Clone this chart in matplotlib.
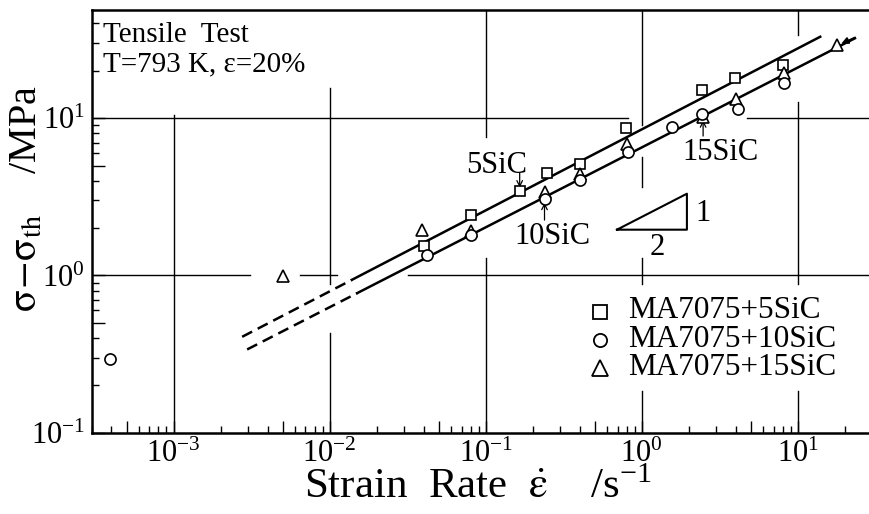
import matplotlib
matplotlib.use("Agg")
import matplotlib.pyplot as plt
from matplotlib.ticker import LogLocator, FuncFormatter, NullFormatter
import numpy as np

plt.rcParams['font.family'] = ['Liberation Serif', 'DejaVu Serif']
plt.rcParams['mathtext.fontset'] = 'stix'

# ---------------- DATA ----------------
rate_5 = [0.040, 0.080, 0.165, 0.247, 0.40, 0.79, 2.43, 3.93, 8.07]
stress_5 = [1.55, 2.41, 3.44, 4.51, 5.14, 8.6, 15.2, 18.1, 21.8]

rate_10 = [0.00039, 0.042, 0.081, 0.238, 0.40, 0.81, 1.56, 2.43, 4.12, 8.17]
stress_10 = [0.294, 1.355, 1.80, 3.08, 4.03, 6.1, 8.8, 10.7, 11.5, 16.8]

rate_15 = [0.005, 0.039, 0.081, 0.238, 0.40, 0.80, 2.47, 4.0, 8.17, 17.7]
stress_15 = [0.99, 1.94, 1.93, 3.4, 4.44, 6.9, 10.2, 13.3, 19.3, 29.2]

legend_labels = ["MA7075+5SiC", "MA7075+10SiC", "MA7075+15SiC"]

# fitted lines  sigma = A * rate^m  (upper: 5SiC, lower: 10/15SiC)
fit_A = [8.49, 6.52]
fit_m = [0.515, 0.508]
dash_range = [(0.00275, 0.0139), (0.00296, 0.0150)]
solid_range = [(0.0139, 13.9), (0.0150, 23.2)]

# slope triangle corners (rate, stress)
tri_x = [0.693, 1.945, 1.945, 0.693]
tri_y = [1.955, 3.31, 1.955, 1.955]

XMIN, XMAX = 3.0e-4, 28.6
YMIN, YMAX = 0.1, 48.7

# grid lines are broken where the original drawing erased them
vgrid_gaps = {
    1e-3: [(10.45, YMAX)],
    1e-2: [(15.5, YMAX), (0.433, 0.889)],
    1e-1: [(1.30, 7.57)],
    1e0: [(5.64, 9.02), (1.30, 3.64), (0.185, 0.889)],
    1e1: [(12.6, 33.8), (0.185, 0.889)],
}
hgrid_gaps = {
    1e0: [(0.00311, 0.0065), (0.0112, 0.032)],
    1e1: [(0.818, 4.73)],
}


def segments(lo, hi, gaps):
    out, start = [], lo
    for g0, g1 in sorted(gaps):
        out.append((start, g0))
        start = g1
    out.append((start, hi))
    return [(a, b) for a, b in out if b > a]


# ---------------- FIGURE ----------------
fig = plt.figure(figsize=(8.7, 5.14), dpi=100)
ax = fig.add_axes([0.1057, 0.158, 0.8933, 0.8225])
ax.set_xscale('log')
ax.set_yscale('log')
ax.set_xlim(XMIN, XMAX)
ax.set_ylim(YMIN, YMAX)

for xv, gaps in vgrid_gaps.items():
    for a, b in segments(YMIN, YMAX, gaps):
        ax.plot([xv, xv], [a, b], color='black', lw=1.0, zorder=1)
for yv, gaps in hgrid_gaps.items():
    for a, b in segments(XMIN, XMAX, gaps):
        ax.plot([a, b], [yv, yv], color='black', lw=1.0, zorder=1)

# fit lines
for A, m, (d0, d1), (s0, s1) in zip(fit_A, fit_m, dash_range, solid_range):
    xd = np.array([d0, d1])
    xs = np.array([s0, s1])
    ax.plot(xd, A * xd ** m, color='black', lw=1.8, ls=(0, (4.5, 2.5)), zorder=3)
    ax.plot(xs, A * xs ** m, color='black', lw=1.8, zorder=3)

mk = dict(ls='none', mfc='white', mec='black', mew=1.2, zorder=4)
ax.plot(rate_5, stress_5, marker='s', ms=7.5, **mk)
ax.plot(rate_15, stress_15, marker='^', ms=9, **mk)
ax.plot(rate_10, stress_10, marker='o', ms=8, **mk)

# slope triangle
ax.plot(tri_x, tri_y, color='black', lw=1.5, zorder=3)
ax.text(2.47, 2.48, "1", fontsize=22, ha='center', va='center')
ax.text(1.256, 1.51, "2", fontsize=22, ha='center', va='center')

# labels with arrows
arr = dict(arrowstyle='->', color='black', lw=0.9, shrinkA=0, shrinkB=0)
ax.text(0.118, 4.46, "5SiC", fontsize=22, ha='center', va='baseline')
ax.annotate("", xy=(0.165, 3.62), xytext=(0.165, 4.5), arrowprops=arr)
ax.text(0.267, 1.58, "10SiC", fontsize=22, ha='center', va='baseline')
ax.annotate("", xy=(0.238, 2.9), xytext=(0.238, 2.25), arrowprops=arr)
ax.text(3.18, 5.4, "15SiC", fontsize=22, ha='center', va='baseline')
ax.annotate("", xy=(2.47, 9.7), xytext=(2.47, 7.7), arrowprops=arr)
ax.annotate("", xy=(19.0, 29.8), xytext=(23.2, 32.6),
            arrowprops=dict(arrowstyle='-|>', color='black', lw=1.2,
                            mutation_scale=10, shrinkA=0, shrinkB=0))

# header
ax.text(0.014, 0.925, "Tensile  Test", transform=ax.transAxes,
        fontsize=21, va='baseline', zorder=5)
ax.text(0.014, 0.854, "T=793 K, \u03b5=20%", transform=ax.transAxes,
        fontsize=21, va='baseline', zorder=5)

# legend drawn by hand (tight rows like the original)
leg_mk = ['s', 'o', '^']
leg_ms = [9.5, 9.5, 11]
leg_mark_y = [0.286, 0.219, 0.153]
leg_text_y = [0.271, 0.2035, 0.1365]
for lab, m, s, my, ty in zip(legend_labels, leg_mk, leg_ms, leg_mark_y, leg_text_y):
    ax.plot([0.654], [my], transform=ax.transAxes, marker=m, ms=s,
            ls='none', mfc='white', mec='black', mew=1.3, zorder=5,
            clip_on=False)
    ax.text(0.690, ty, lab, transform=ax.transAxes, fontsize=22.5,
            va='baseline', zorder=5)


# ticks
def decade_label(v, pos):
    e = np.log10(v)
    if abs(e - round(e)) < 1e-6:
        return r"$\mathregular{10^{%d}}$" % int(round(e))
    return ""


for axis in (ax.xaxis, ax.yaxis):
    axis.set_major_locator(LogLocator(base=10, subs=(1.0, 5.0), numticks=20))
    axis.set_minor_locator(LogLocator(base=10, subs=(2, 3, 4, 6, 7, 8, 9), numticks=20))
    axis.set_major_formatter(FuncFormatter(decade_label))
    axis.set_minor_formatter(NullFormatter())

ax.tick_params(which='major', direction='in', length=9, width=1.0,
               labelsize=22, top=False, right=False, pad=5)
ax.tick_params(which='minor', direction='in', length=5, width=1.0,
               top=False, right=False)

for side in ('left', 'bottom', 'top'):
    ax.spines[side].set_linewidth(1.8)
ax.spines['right'].set_linewidth(0.6)

fig.text(478 / 870, 1 - 498 / 514,
         "Strain  Rate  $\\dot{\\mathrm{\\varepsilon}}$    /s$^{\\mathregular{-1}}$",
         fontsize=31, ha='center', va='baseline')
fig.text(27 / 870, 1 - 199 / 514,
         r"$\mathrm{\sigma}\!-\!\mathrm{\sigma}_{\mathrm{th}}$    /MPa",
         fontsize=29, ha='center', va='center', rotation=90)

fig.savefig("out.png", dpi=100)
